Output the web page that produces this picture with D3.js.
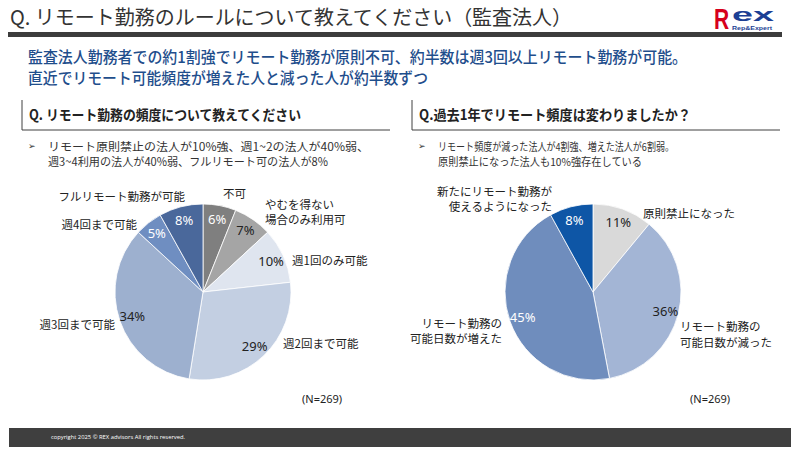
<!DOCTYPE html>
<html><head><meta charset="utf-8">
<script src="https://cdn.jsdelivr.net/npm/d3@7"></script>
<style>
html,body{margin:0;padding:0;background:#fff;}
svg{display:block;}
</style></head>
<body>
<svg id="c" width="800" height="450"></svg>
<script>
// ---- data ----
const pageTitle = "Q. リモート勤務のルールについて教えてください（監査法人）";
const summaryLines = [
  "監査法人勤務者での約1割強でリモート勤務が原則不可、約半数は週3回以上リモート勤務が可能。",
  "直近でリモート可能頻度が増えた人と減った人が約半数ずつ"
];
const leftHeader = "Q. リモート勤務の頻度について教えてください";
const rightHeader = "Q.過去1年でリモート頻度は変わりましたか？";
const leftBullets = ["リモート原則禁止の法人が10%強、週1~2の法人が40%弱、", "週3~4利用の法人が40%弱、フルリモート可の法人が8%"];
const rightBullets = ["リモート頻度が減った法人が4割強、増えた法人が6割弱。", "原則禁止になった法人も10%強存在している"];

const freqCategories = ["不可", "やむを得ない\n場合のみ利用可", "週1回のみ可能", "週2回まで可能", "週3回まで可能", "週4回まで可能", "フルリモート勤務が可能"];
const freqValues = [6, 7, 10, 29, 34, 5, 8];
const changeCategories = ["原則禁止になった", "リモート勤務の\n可能日数が減った", "リモート勤務の\n可能日数が増えた", "新たにリモート勤務が\n使えるようになった"];
const changeValues = [11, 36, 45, 8];
const sampleNote = "(N=269)";
const copyright = "copyright 2025 © REX advisors All rights reserved.";

// ---- styles / layout ----
const freqColors = ["#7f7f7f", "#a5a5a5", "#dfe5ef", "#c3cfe2", "#9db0cf", "#6f8ec1", "#4a689b"];
const freqTextColors = ["#fff", "#222", "#222", "#222", "#222", "#fff", "#fff"];
const changeColors = ["#d9d9d9", "#a3b5d5", "#6f8dbd", "#0e56a6"];
const changeTextColors = ["#222", "#222", "#fff", "#fff"];

// outside label offsets relative to pie centre: [dx, dy, anchor, lineGap]
const freqLabelPos = [[20,-99,"start",15],[62,-88,"start",15],[89,-32,"start",15],[80,51,"start",15],[-88,32,"end",15],[-66,-68,"end",15],[-18,-96,"end",15]];
const changeLabelPos = [[50,-79,"start",15],[87,34,"start",16],[-91,31,"end",15],[-41,-101,"end",15]];

const JP = "'Noto Sans CJK JP','Noto Sans',sans-serif";
const svg = d3.select("#c");

// title
svg.append("text").attr("x",10).attr("y",16).attr("dominant-baseline","central")
  .attr("font-family",JP).attr("font-size",20).attr("fill","#333")
  .attr("textLength",562).attr("lengthAdjust","spacingAndGlyphs").text(pageTitle);
svg.append("rect").attr("x",8).attr("y",32).attr("width",774).attr("height",5).attr("fill","#3c3c3c");

// logo
const logo = svg.append("g");
logo.append("g").attr("transform","translate(714,29) scale(1,1.38)")
  .append("text").attr("x",0).attr("y",0).attr("font-family","'Liberation Sans',Arial,sans-serif")
  .attr("font-weight","bold").attr("font-size",21).attr("fill","#d6001c").text("R");
logo.append("text").attr("x",732).attr("y",21).attr("font-family","'Liberation Sans',Arial,sans-serif")
  .attr("font-weight","bold").attr("font-size",19).attr("fill","#1c3f94")
  .attr("textLength",42).attr("lengthAdjust","spacingAndGlyphs").text("ex");
logo.append("text").attr("x",732).attr("y",29.5).attr("font-family","'Liberation Sans',Arial,sans-serif")
  .attr("font-weight","bold").attr("font-size",5).attr("fill","#1c3f94")
  .attr("textLength",40).attr("lengthAdjust","spacingAndGlyphs").text("Rep&Expert");

// summary
const sumW = [659, 400];
summaryLines.forEach((t,i)=>{
  svg.append("text").attr("x",28).attr("y",56+i*21).attr("dominant-baseline","central")
    .attr("font-family",JP).attr("font-size",15.5).attr("font-weight",500).attr("fill","#1f4e8c")
    .attr("textLength",sumW[i]).attr("lengthAdjust","spacingAndGlyphs").text(t);
});

// section headers
function section(x0, x1, header, headerW, bullets, widths, bsize){
  svg.append("line").attr("x1",x0).attr("x2",x0).attr("y1",100).attr("y2",130).attr("stroke","#404040").attr("stroke-width",1);
  svg.append("line").attr("x1",x0).attr("x2",x1).attr("y1",130).attr("y2",130).attr("stroke","#404040").attr("stroke-width",1);
  svg.append("text").attr("x",x0+7).attr("y",114).attr("dominant-baseline","central")
    .attr("font-family",JP).attr("font-size",14).attr("font-weight","bold").attr("fill","#222")
    .attr("textLength",headerW).attr("lengthAdjust","spacingAndGlyphs").text(header);
  svg.append("text").attr("x",x0+6).attr("y",146).attr("dominant-baseline","central")
    .attr("font-family","'DejaVu Sans',sans-serif").attr("font-size",9).attr("fill","#333").text("➢");
  bullets.forEach((t,i)=>{
    svg.append("text").attr("x",x0+26).attr("y",146+i*15).attr("dominant-baseline","central")
      .attr("font-family",JP).attr("font-size",bsize).attr("fill","#333")
      .attr("textLength",widths[i]).attr("lengthAdjust","spacingAndGlyphs").text(t);
  });
}
section(22, 390, leftHeader, 272, leftBullets, [321, 280], 11.5);
section(412, 780, rightHeader, 272, rightBullets, [236, 204], 11);

// pies
const R = 88;
function drawPie(cx, cy, cats, vals, colors, tcolors, lpos){
  const g = svg.append("g").attr("transform",`translate(${cx},${cy})`);
  const arcs = d3.pie().sort(null).value(d=>d)(vals);
  const arc = d3.arc().innerRadius(0).outerRadius(R);
  const labArc = d3.arc().innerRadius(R*0.85).outerRadius(R*0.85);
  g.selectAll("path").data(arcs).join("path").attr("d",arc)
    .attr("fill",(d,i)=>colors[i]).attr("stroke","#fff").attr("stroke-width",0.8);
  g.selectAll("text.pct").data(arcs).join("text").attr("class","pct")
    .attr("transform",d=>`translate(${labArc.centroid(d)})`)
    .attr("text-anchor","middle").attr("dominant-baseline","central")
    .attr("font-family","'Noto Sans',sans-serif").attr("font-size",13)
    .attr("fill",(d,i)=>tcolors[i]).text(d=>d.data+"%");
  cats.forEach((c,i)=>{
    const [dx,dy,anc,gap] = lpos[i];
    const t = g.append("text").attr("text-anchor",anc).attr("font-family",JP).attr("font-size",11.5).attr("fill","#222");
    c.split("\n").forEach((ln,j)=>{
      t.append("tspan").attr("x",dx).attr("y",dy+j*gap).attr("dominant-baseline","central").text(ln);
    });
  });
}
drawPie(203, 292, freqCategories, freqValues, freqColors, freqTextColors, freqLabelPos);
drawPie(593, 292, changeCategories, changeValues, changeColors, changeTextColors, changeLabelPos);

// N notes
[[302],[690]].forEach(([x])=>{
  svg.append("text").attr("x",x).attr("y",398).attr("dominant-baseline","central")
    .attr("font-family","'Noto Sans',sans-serif").attr("font-size",11).attr("fill","#222").text(sampleNote);
});

// footer
svg.append("rect").attr("x",9).attr("y",428).attr("width",782).attr("height",19).attr("fill","#3f3f3f");
svg.append("text").attr("x",51).attr("y",436.5).attr("dominant-baseline","central")
  .attr("font-family","'Open Sans',sans-serif").attr("font-size",6).attr("fill","#fff")
  .attr("textLength",134).attr("lengthAdjust","spacingAndGlyphs").text(copyright);
</script>
</body></html>
